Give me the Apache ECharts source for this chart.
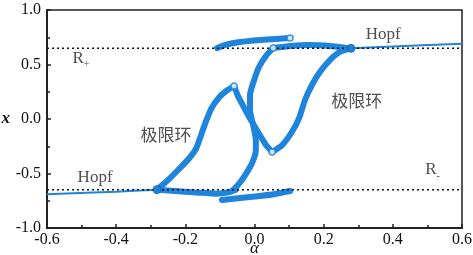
<!DOCTYPE html>
<html>
<head>
<meta charset="utf-8">
<script src="https://cdn.jsdelivr.net/npm/echarts@6/dist/echarts.min.js"></script>
<style>
  html, body { margin: 0; padding: 0; background: #fff; }
  #chart { width: 473px; height: 255px; }
</style>
</head>
<body>
<div id="chart"></div>
<script>
// 分岔图数据 (alpha, x)
const rLevel = 0.648; // R+ / R- 平衡点虚线

// 稳定分支 (细线)
const stableLeft = [[-0.6, -0.69], [-0.4, -0.667], [-0.282, -0.648]];
const stableRight = [[0.279, 0.648], [0.4, 0.665], [0.6, 0.69]];

// 极限环分支 (粗线)
const leftBranch = [[-0.282, -0.648], [-0.250, -0.560], [-0.221, -0.468], [-0.190, -0.365], [-0.168, -0.265],
  [-0.146, -0.070], [-0.125, 0.095], [-0.102, 0.200], [-0.078, 0.266], [-0.059, 0.303]];
const middleLine = [[-0.059, 0.303], [-0.048, 0.211], [-0.019, 0.037], [0.010, -0.119], [0.033, -0.239], [0.051, -0.303]];
const rightBranch = [[0.051, -0.303], [0.080, -0.239], [0.108, -0.119], [0.129, 0.009], [0.146, 0.174],
  [0.166, 0.312], [0.189, 0.431], [0.218, 0.541], [0.247, 0.615], [0.279, 0.648]];
const crossLine = [[0.054, 0.651], [0.033, 0.578], [0.013, 0.477], [-0.001, 0.358], [-0.013, 0.220], [-0.013, 0.083],
  [-0.004, -0.055], [0.004, -0.193], [0.004, -0.284], [-0.007, -0.404], [-0.027, -0.514], [-0.048, -0.606], [-0.062, -0.651]];
const upperArc = [[-0.108, 0.651], [-0.085, 0.679], [-0.042, 0.706], [0.016, 0.725], [0.060, 0.734], [0.103, 0.743]];
const lowerArc = [[-0.094, -0.743], [-0.042, -0.725], [0.016, -0.706], [0.060, -0.688], [0.103, -0.661]];
const upperLink = [[0.054, 0.651], [0.103, 0.670], [0.161, 0.679], [0.218, 0.670], [0.279, 0.648]];
const lowerLink = [[-0.282, -0.648], [-0.220, -0.662], [-0.160, -0.676], [-0.110, -0.685], [-0.075, -0.672], [-0.055, -0.651]];

// 端点
const hopfPoints = [[-0.282, -0.648], [0.279, 0.648]];
const openPoints = [[0.103, 0.743], [0.054, 0.651], [-0.059, 0.303], [0.051, -0.303]];

// 标注
const notes = [
  { value: [-0.502, 0.545], text: '{r|R}{s|+}' },
  { value: [0.515, -0.48], text: '{r|R}{s|-}' },
  { value: [0.372, 0.775], text: 'Hopf' },
  { value: [-0.461, -0.541], text: 'Hopf' },
  { value: [0.296, 0.147], text: '极限环' },
  { value: [-0.256, -0.165], text: '极限环' }
];

const blue = '#1f84dc';
const serif = '"Liberation Serif", "Times New Roman", serif';

function thick(data, sm) {
  return {
    type: 'line', data: data, symbol: 'none', smooth: sm === undefined ? 0.2 : sm, z: 3,
    lineStyle: { color: blue, width: 6, cap: 'round', join: 'round' }
  };
}
function thin(data) {
  return {
    type: 'line', data: data, symbol: 'none', smooth: 0.3, z: 2,
    lineStyle: { color: blue, width: 2 }
  };
}

const chart = echarts.init(document.getElementById('chart'));
const option = {
  animation: false,
  grid: { left: 47, right: 11, top: 10, bottom: 27, show: true, borderColor: '#222', borderWidth: 1.5, outerBoundsMode: 'none' },
  xAxis: {
    type: 'value', min: -0.6, max: 0.6, interval: 0.2,
    name: 'α', nameLocation: 'middle', nameGap: 12, nameMoveOverlap: false,
    nameTextStyle: { fontFamily: serif, fontStyle: 'italic', fontSize: 17, color: '#111' },
    axisLine: { onZero: false, lineStyle: { color: '#222', width: 2 } },
    axisTick: { inside: true, length: 4, lineStyle: { color: '#222', width: 1.5 } },
    minorTick: { show: true, splitNumber: 2, length: 3, lineStyle: { color: '#222', width: 1.5 } },
    splitLine: { show: false },
    axisLabel: {
      fontFamily: serif, fontSize: 16, color: '#111', margin: 4,
      formatter: function (v) { return v.toFixed(1); }
    }
  },
  yAxis: {
    type: 'value', min: -1.0, max: 1.0, interval: 0.5,
    name: 'x', nameLocation: 'middle', nameGap: 37, nameRotate: 0, nameMoveOverlap: false,
    nameTextStyle: { fontFamily: serif, fontStyle: 'italic', fontWeight: 'bold', fontSize: 17, color: '#111' },
    axisLine: { onZero: false, lineStyle: { color: '#222', width: 2 } },
    axisTick: { inside: true, length: 4, lineStyle: { color: '#222', width: 1.5 } },
    minorTick: { show: true, splitNumber: 2, length: 3, lineStyle: { color: '#222', width: 1.5 } },
    splitLine: { show: false },
    axisLabel: {
      fontFamily: serif, fontSize: 16, color: '#111', margin: 6,
      formatter: function (v) { return v.toFixed(1); }
    }
  },
  series: [
    thin(stableLeft),
    thin(stableRight),
    thick(leftBranch),
    thick(middleLine, false),
    thick(rightBranch),
    thick(crossLine),
    thick(upperArc),
    thick(lowerArc),
    thick(upperLink),
    thick(lowerLink),
    {
      type: 'line', data: [[-0.6, rLevel], [0.6, rLevel]], symbol: 'none', z: 5,
      lineStyle: { color: '#111', width: 1.5, type: [2, 3] }
    },
    {
      type: 'line', data: [[-0.6, -rLevel], [0.6, -rLevel]], symbol: 'none', z: 5,
      lineStyle: { color: '#111', width: 1.5, type: [2, 3] }
    },
    {
      type: 'scatter', data: hopfPoints, symbolSize: 8, z: 6,
      itemStyle: { color: blue, borderColor: '#0d5fa8', borderWidth: 1 }
    },
    {
      type: 'scatter', data: openPoints, symbolSize: 6, z: 6,
      itemStyle: { color: '#fff', borderColor: blue, borderWidth: 1.5 }
    },
    {
      type: 'scatter', symbolSize: 0, z: 7,
      data: notes.map(function (n) { return { value: n.value, name: n.text }; }),
      label: {
        show: true, position: 'inside', formatter: '{b}',
        fontFamily: serif + ', "Noto Sans CJK SC"', fontSize: 17, color: '#222',
        rich: {
          r: { fontFamily: serif, fontSize: 17, color: '#222', lineHeight: 20, verticalAlign: 'top' },
          s: { fontFamily: serif, fontSize: 10, color: '#222', lineHeight: 20, verticalAlign: 'bottom' }
        }
      }
    }
  ]
};
chart.setOption(option);
</script>
</body>
</html>
